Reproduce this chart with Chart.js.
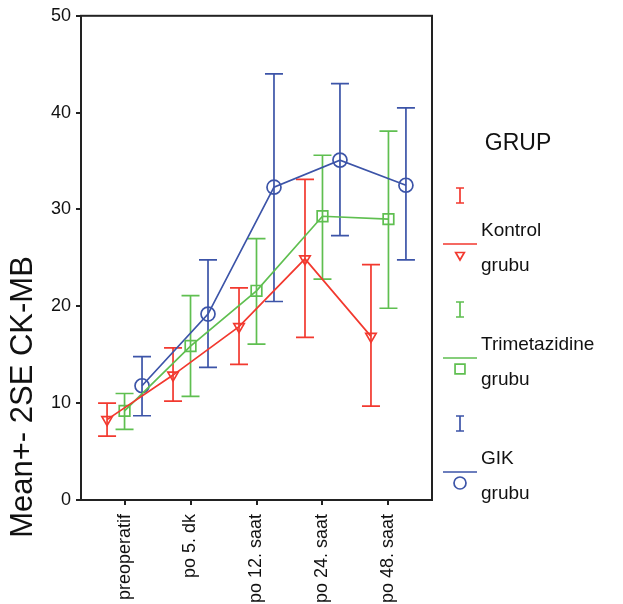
<!DOCTYPE html>
<html lang="tr">
<head>
  <meta charset="UTF-8">
  <title>Mean+- 2SE CK-MB</title>
  <script src="https://cdn.jsdelivr.net/npm/chart.js"></script>
  <style>
    html, body { margin: 0; padding: 0; background: #ffffff; }
    #wrap { width: 623px; height: 604px; position: relative; }
  </style>
</head>
<body>
  <div id="wrap"><canvas id="ckChart"></canvas></div>

  <script>
// Categories (time points)
const categories = ['preoperatif', 'po 5. dk', 'po 12. saat', 'po 24. saat', 'po 48. saat'];
const yTicks = [0, 10, 20, 30, 40, 50];

// Kontrol grubu
const kontrolMean = [8.3, 12.9, 17.9, 24.9, 16.9];
const kontrolLow  = [6.6, 10.2, 14.0, 16.8, 9.7];
const kontrolHigh = [10.0, 15.7, 21.9, 33.1, 24.3];

// Trimetazidine grubu
const trimetMean = [9.2, 15.9, 21.6, 29.3, 29.0];
const trimetLow  = [7.3, 10.7, 16.1, 22.8, 19.8];
const trimetHigh = [11.0, 21.1, 27.0, 35.6, 38.1];

// GIK grubu
const gikMean = [11.8, 19.2, 32.3, 35.1, 32.5];
const gikLow  = [8.7, 13.7, 20.5, 27.3, 24.8];
const gikHigh = [14.8, 24.8, 44.0, 43.0, 40.5];

const FONT = "'Liberation Sans', Arial, sans-serif";
const AXIS_COLOR = '#222222';
const LW = 1.7;

// series styling
const groups = [
  { name: 'Kontrol', mean: kontrolMean, low: kontrolLow, high: kontrolHigh,
    color: '#f2392f', style: 'triangle', rotation: 180, radius: 6, dodge: -0.265 },
  { name: 'Trimetazidine', mean: trimetMean, low: trimetLow, high: trimetHigh,
    color: '#5fbf50', style: 'rect', rotation: 0, radius: 7.5, dodge: 0 },
  { name: 'GIK', mean: gikMean, low: gikLow, high: gikHigh,
    color: '#3c54a8', style: 'circle', rotation: 0, radius: 7, dodge: 0.265 }
];

const datasets = groups.map(g => ({
  label: g.name + ' grubu',
  data: g.mean.map((m, i) => ({ x: i + g.dodge, y: m })),
  showLine: true,
  borderColor: g.color,
  backgroundColor: 'rgba(0,0,0,0)',
  borderWidth: LW,
  pointStyle: g.style,
  rotation: g.rotation,
  pointRadius: g.radius,
  pointBorderWidth: LW,
  pointBorderColor: g.color,
  pointBackgroundColor: 'rgba(0,0,0,0)'
}));

// error bars, drawn through the chart scales
const errorBars = {
  id: 'errorBars',
  beforeDatasetsDraw(chart) {
    const { ctx, scales: { x, y } } = chart;
    ctx.save();
    ctx.lineWidth = LW;
    groups.forEach(g => {
      ctx.strokeStyle = g.color;
      g.mean.forEach((m, i) => {
        const px = x.getPixelForValue(i + g.dodge);
        const top = y.getPixelForValue(g.high[i]);
        const bot = y.getPixelForValue(g.low[i]);
        ctx.beginPath();
        ctx.moveTo(px, top); ctx.lineTo(px, bot);
        ctx.moveTo(px - 9, top); ctx.lineTo(px + 9, top);
        ctx.moveTo(px - 9, bot); ctx.lineTo(px + 9, bot);
        ctx.stroke();
      });
    });
    ctx.restore();
  }
};

// frame + y title + legend
const decorations = {
  id: 'decorations',
  afterDraw(chart) {
    const { ctx, chartArea: a } = chart;
    ctx.save();
    ctx.strokeStyle = AXIS_COLOR;
    ctx.lineWidth = 2;
    ctx.strokeRect(a.left, a.top, a.right - a.left, a.bottom - a.top);

    // y axis title
    ctx.fillStyle = '#111';
    ctx.font = '31px ' + FONT;
    ctx.textAlign = 'center';
    ctx.textBaseline = 'middle';
    ctx.translate(23, 397);
    ctx.rotate(-Math.PI / 2);
    ctx.fillText('Mean+- 2SE CK-MB', 0, 0);
    ctx.restore();

    // legend
    ctx.save();
    ctx.fillStyle = '#111';
    ctx.font = '23px ' + FONT;
    ctx.textAlign = 'center';
    ctx.textBaseline = 'middle';
    ctx.fillText('GRUP', 518, 144);

    ctx.textAlign = 'left';
    ctx.font = '19px ' + FONT;
    groups.forEach((g, k) => {
      const L = 244 + k * 114;
      ctx.strokeStyle = g.color;
      ctx.lineWidth = LW;
      ctx.beginPath();
      ctx.moveTo(460, L - 56); ctx.lineTo(460, L - 41);
      ctx.moveTo(456, L - 56); ctx.lineTo(464, L - 56);
      ctx.moveTo(456, L - 41); ctx.lineTo(464, L - 41);
      ctx.moveTo(443, L); ctx.lineTo(477, L);
      ctx.stroke();
      ctx.fillStyle = 'rgba(0,0,0,0)';
      Chart.helpers.drawPoint(ctx, {
        pointStyle: g.style, rotation: g.rotation,
        radius: g.style === 'triangle' ? 5 : (g.style === 'rect' ? 7 : 6),
        borderWidth: LW
      }, 460, L + 11);
      ctx.fillStyle = '#111';
      ctx.fillText(g.name, 481, L - 13);
      ctx.fillText('grubu', 481, L + 22);
    });
    ctx.restore();
  }
};

new Chart(document.getElementById('ckChart'), {
  type: 'scatter',
  data: { datasets: datasets },
  options: {
    responsive: true,
    maintainAspectRatio: false,
    animation: false,
    layout: { padding: { left: 0, top: 11, right: 191, bottom: 0 } },
    plugins: {
      legend: { display: false },
      tooltip: { enabled: false }
    },
    scales: {
      x: {
        type: 'linear',
        min: -0.66,
        max: 4.66,
        afterBuildTicks(scale) {
          scale.ticks = categories.map((c, i) => ({ value: i }));
        },
        afterFit(scale) { scale.height = 104; },
        grid: { display: true, drawOnChartArea: false, drawTicks: true, tickLength: 5, color: AXIS_COLOR, lineWidth: 2 },
        border: { display: true, color: AXIS_COLOR, width: 2 },
        ticks: {
          autoSkip: false,
          minRotation: 90,
          maxRotation: 90,
          padding: 9,
          color: '#111',
          font: { family: FONT, size: 18 },
          callback: (v) => categories[v]
        }
      },
      y: {
        min: 0,
        max: 50,
        afterBuildTicks(scale) {
          scale.ticks = yTicks.map(v => ({ value: v }));
        },
        afterFit(scale) { scale.width = 81; },
        grid: { display: true, drawOnChartArea: false, drawTicks: true, tickLength: 5, color: AXIS_COLOR, lineWidth: 2 },
        border: { display: true, color: AXIS_COLOR, width: 2 },
        ticks: {
          padding: 5,
          color: '#111',
          font: { family: FONT, size: 18 }
        }
      }
    }
  },
  plugins: [errorBars, decorations]
});
  </script>
</body>
</html>
